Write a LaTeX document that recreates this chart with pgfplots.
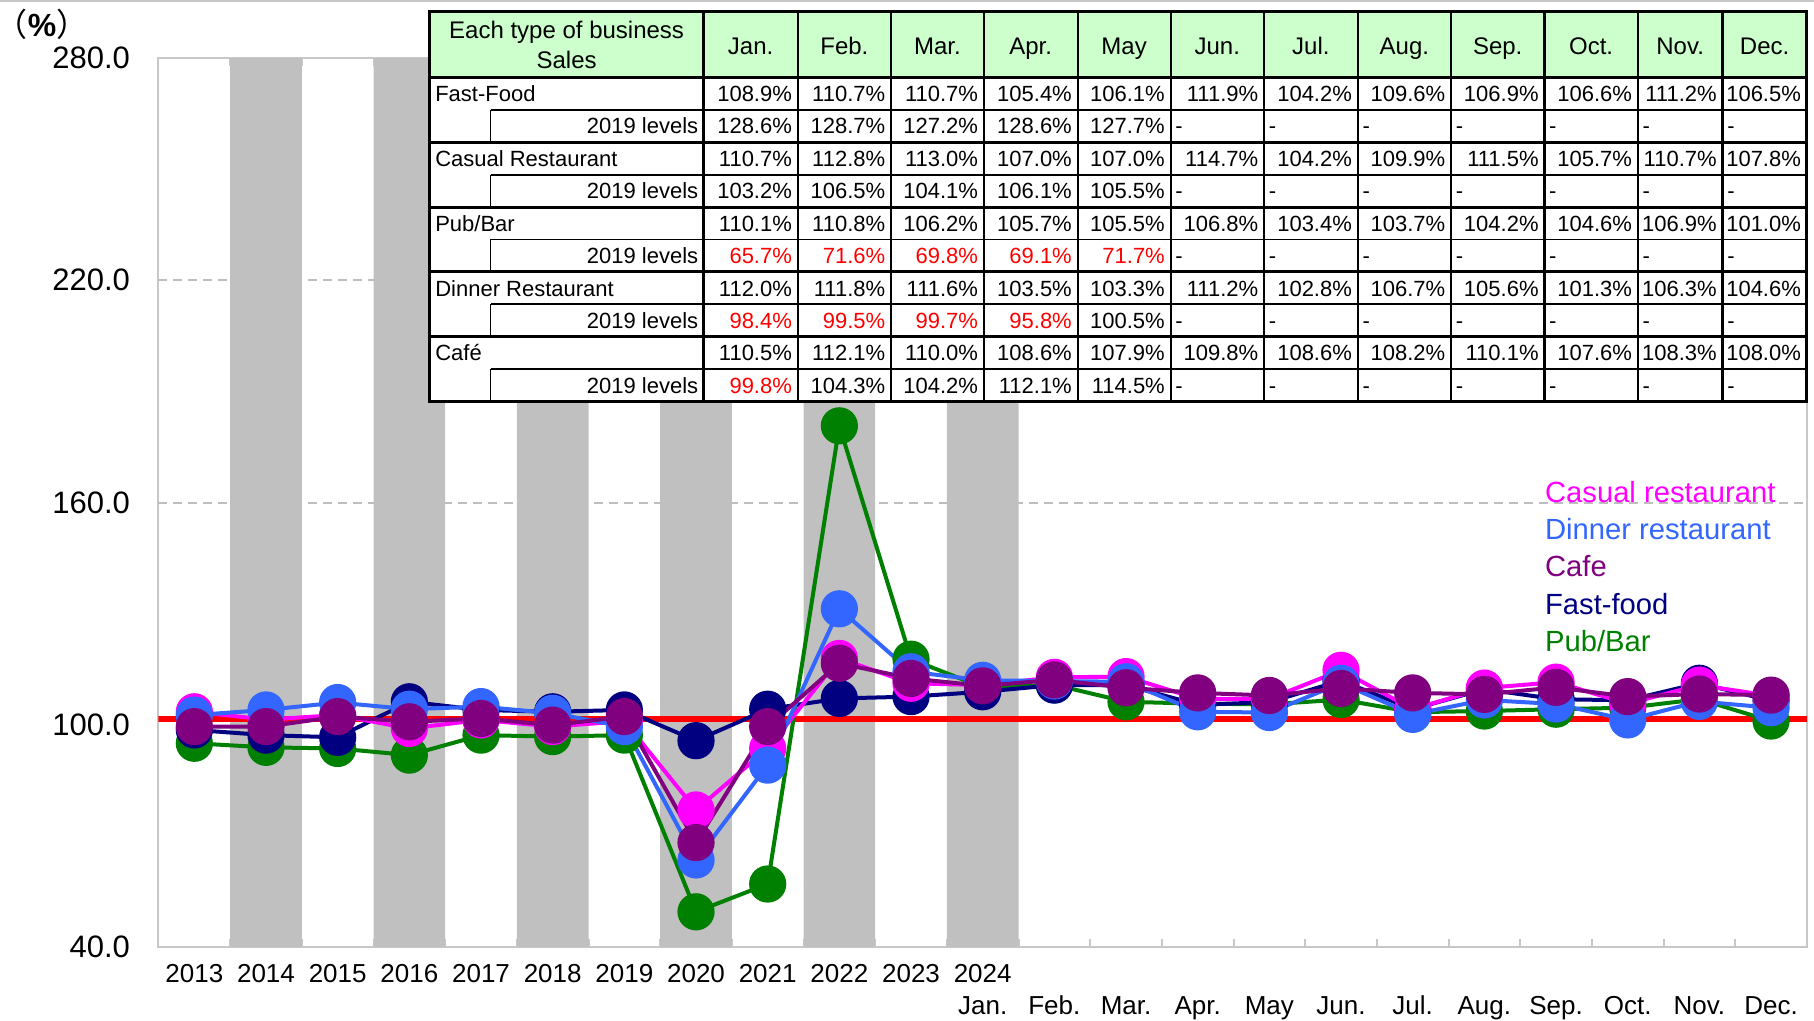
\documentclass[border=0pt]{standalone}
\usepackage{pgfplots}
\pgfplotsset{compat=1.18}
\usepackage{pgfplotstable}
\usepackage{fontspec}
\setmainfont{Liberation Sans}
\newfontfamily\cjk{Noto Sans CJK JP}
\definecolor{bandgray}{RGB}{192,192,192}
\definecolor{framegray}{RGB}{200,200,200}
\definecolor{gridgray}{RGB}{190,190,190}
\definecolor{cmag}{RGB}{255,0,255}
\definecolor{cblue}{RGB}{51,102,255}
\definecolor{cpurp}{RGB}{128,0,128}
\definecolor{cnavy}{RGB}{0,0,128}
\definecolor{cgreen}{RGB}{0,128,0}
\definecolor{hdrgreen}{RGB}{204,255,204}
\definecolor{tred}{RGB}{255,0,0}

\pgfplotstableread{
x  ff    cas   din   caf   pub
0  98.6  103.5 102.6 99.5  95.0
1  97.2  101.4 104.0 99.5  93.9
2  96.6  102.6 106.0 102.2 93.6
3  106.2 99.0  104.2 100.8 91.8
4  104.0 101.3 104.9 101.7 97.2
5  103.5 99.5  103.1 99.9  96.8
6  104.0 101.0 99.5  102.2 97.2
7  95.7  77.0  63.5  68.2  49.5
8  104.2 93.6  89.1  99.5  57.0
9  107.1 117.9 131.3 116.6 180.7
10 107.6 111.2 114.3 112.5 117.7
11 108.9 110.7 112.0 110.5 110.1
12 110.7 112.8 111.8 112.1 110.8
13 110.7 113.0 111.6 110.0 106.2
14 105.4 107.0 103.5 108.6 105.7
15 106.1 107.0 103.3 107.9 105.5
16 111.9 114.7 111.2 109.8 106.8
17 104.2 104.2 102.8 108.6 103.4
18 109.6 109.9 106.7 108.2 103.7
19 106.9 111.5 105.6 110.1 104.2
20 106.6 105.7 101.3 107.6 104.6
21 111.2 110.7 106.3 108.3 106.9
22 106.5 107.8 104.6 108.0 101.0
}\data

\newcommand\yl[1]{\strut #1\\\strut}
\newcommand\ml[1]{\strut\\\strut #1}

% table helpers (coordinates in pixels of the 1814x1020 frame)
\def\colR{{703.5,797.7,891,983.8,1077.6,1170.6,1264,1357.7,1451,1544.4,1637.8,1722.5,1806.7}}
\tikzset{cell/.style={inner sep=0pt, text height=3.95pt, text depth=0pt, font=\fontsize{5.5}{6.6}\selectfont}}
\newcommand\mainrow[3]{%
  \pgfmathsetmacro\yc{77.3+64.88*#1+16.22}
  \node[cell, anchor=west] at (434.5,\yc) {#2};
  \foreach \v [count=\c] in {#3} {
    \pgfmathsetmacro\xr{\colR[\c]}
    \node[cell, anchor=east] at (\xr-5,\yc) {\v\%};
  }
}
\newcommand\subrow[2]{%
  \pgfmathsetmacro\yc{77.3+64.88*#1+48.66}
  \node[cell, anchor=east] at (699,\yc) {2019 levels};
  \foreach \col/\v [count=\c] in {#2} {
    \pgfmathsetmacro\xr{\colR[\c]}
    \node[cell, anchor=east, text=\col] at (\xr-5,\yc) {\v\%};
  }
  \foreach \c [evaluate=\c as \cm using int(\c-1)] in {6,...,12} {
    \pgfmathsetmacro\xl{\colR[\cm]}
    \node[cell, anchor=west] at (\xl+4,\yc) {-};
  }
}

\begin{document}
\begin{tikzpicture}
\path[use as bounding box] (0,0) rectangle (453.5pt,255pt);
\draw[framegray, line width=0.5pt] (0,254.75pt) -- (453.5pt,254.75pt);
\begin{axis}[
  at={(39.625pt,18.25pt)}, anchor=south west,
  scale only axis, width=412.1pt, height=222.25pt,
  xmin=-0.5, xmax=22.5, ymin=40, ymax=280,
  ytick={40,100,160,220,280},
  extra y ticks={160,220},
  extra y tick labels={},
  extra y tick style={grid=major},
  xtick={0,...,22},
  xticklabels={\yl{2013},\yl{2014},\yl{2015},\yl{2016},\yl{2017},\yl{2018},\yl{2019},\yl{2020},\yl{2021},\yl{2022},\yl{2023},{\strut 2024\\\strut Jan.},\ml{Feb.},\ml{Mar.},\ml{Apr.},\ml{May},\ml{Jun.},\ml{Jul.},\ml{Aug.},\ml{Sep.},\ml{Oct.},\ml{Nov.},\ml{Dec.}},
  minor xtick={-0.5,0.5,...,22.5},
  major tick length=0pt,
  minor tick length=2pt,
  tick align=inside,
  minor tick style={framegray, line width=0.5pt},
  xticklabel style={font=\fontsize{6.5}{7.9}\selectfont, align=center, yshift=0.1pt},
  yticklabel style={font=\fontsize{7.75}{9}\selectfont, xshift=-3.6pt,
    /pgf/number format/fixed, /pgf/number format/fixed zerofill, /pgf/number format/precision=1},
  /pgf/number format/assume math mode=true,
  axis line style={framegray, line width=0.5pt},
  major grid style={gridgray, line width=0.5pt, dash pattern=on 2.25pt off 1.5pt},
]
\addplot[ybar, bar width=1, fill=bandgray, draw=none, forget plot] coordinates {(1,280) (3,280) (5,280) (7,280) (9,280) (11,280)};
\addplot[tred, line width=1.6pt, forget plot] coordinates {(-0.5,101.6) (22.5,101.6)};
\addplot[cgreen, line width=1pt, mark=*, mark size=4.15pt, mark options={draw=none, fill=cgreen}] table[x=x, y=pub] {\data};
\addplot[cnavy, line width=1pt, mark=*, mark size=4.15pt, mark options={draw=none, fill=cnavy}] table[x=x, y=ff] {\data};
\addplot[cmag, line width=1pt, mark=*, mark size=4.15pt, mark options={draw=none, fill=cmag}] table[x=x, y=cas] {\data};
\addplot[cblue, line width=1pt, mark=*, mark size=4.15pt, mark options={draw=none, fill=cblue}] table[x=x, y=din] {\data};
\addplot[cpurp, line width=1pt, mark=*, mark size=4.15pt, mark options={draw=none, fill=cpurp}] table[x=x, y=caf] {\data};
\node[anchor=base west, text=cmag, font=\fontsize{7.3}{8}\selectfont] at (axis cs:18.65,160.1) {Casual restaurant};
\node[anchor=base west, text=cblue, font=\fontsize{7.3}{8}\selectfont] at (axis cs:18.65,150.0) {Dinner restaurant};
\node[anchor=base west, text=cpurp, font=\fontsize{7.3}{8}\selectfont] at (axis cs:18.65,139.9) {Cafe};
\node[anchor=base west, text=cnavy, font=\fontsize{7.3}{8}\selectfont] at (axis cs:18.65,129.8) {Fast-food};
\node[anchor=base west, text=cgreen, font=\fontsize{7.3}{8}\selectfont] at (axis cs:18.65,119.7) {Pub/Bar};
\end{axis}

\begin{scope}[x=0.25pt, y=-0.25pt, shift={(0,255pt)}]
  % (%) label
  \node[font=\fontsize{8}{9}\selectfont, inner sep=0pt, text height=5.6pt, text depth=1pt] at (42,27) {{\cjk （}{\bfseries\%}{\cjk ）}};
  % table background
  \fill[hdrgreen] (429.8,11.7) rectangle (1806.7,77.3);
  \fill[white] (429.8,77.3) rectangle (1806.7,401.7);
  % vertical lines
  \foreach \c in {0,...,11} {
    \pgfmathsetmacro\xr{\colR[\c]}
    \draw[black, line width=0.55pt] (\xr,11.7) -- (\xr,401.7);
  }
  % horizontal lines
  \draw[black, line width=0.75pt] (429.8,77.3) -- (1806.7,77.3);
  \foreach \g in {0,...,4} {
    \pgfmathsetmacro\ys{77.3+64.88*\g+32.44}
    \pgfmathsetmacro\yb{77.3+64.88*(\g+1)}
    \draw[black, line width=0.45pt] (490.5,\ys) -- (1806.7,\ys);
    \draw[black, line width=0.45pt] (490.5,\ys) -- (490.5,\yb);
    \draw[black, line width=0.75pt] (429.8,\yb) -- (1806.7,\yb);
  }
  \draw[black, line width=0.8pt] (429.8,11.7) rectangle (1806.7,401.7);
  % header
  \node[align=center, inner sep=0pt, font=\fontsize{6}{7.5}\selectfont] at (566.6,44.5) {Each type of business\\Sales};
  \foreach \m [count=\c, evaluate=\c as \cm using int(\c-1)] in {Jan.,Feb.,Mar.,Apr.,May,Jun.,Jul.,Aug.,Sep.,Oct.,Nov.,Dec.} {
    \pgfmathsetmacro\xa{\colR[\cm]}
    \pgfmathsetmacro\xb{\colR[\c]}
    \node[inner sep=0pt, text height=4.3pt, text depth=0pt, font=\fontsize{6}{7.5}\selectfont] at ({(\xa+\xb)/2},45.5) {\m};
  }
  % rows
  \mainrow{0}{Fast-Food}{108.9,110.7,110.7,105.4,106.1,111.9,104.2,109.6,106.9,106.6,111.2,106.5}
  \subrow{0}{black/128.6,black/128.7,black/127.2,black/128.6,black/127.7}
  \mainrow{1}{Casual Restaurant}{110.7,112.8,113.0,107.0,107.0,114.7,104.2,109.9,111.5,105.7,110.7,107.8}
  \subrow{1}{black/103.2,black/106.5,black/104.1,black/106.1,black/105.5}
  \mainrow{2}{Pub/Bar}{110.1,110.8,106.2,105.7,105.5,106.8,103.4,103.7,104.2,104.6,106.9,101.0}
  \subrow{2}{tred/65.7,tred/71.6,tred/69.8,tred/69.1,tred/71.7}
  \mainrow{3}{Dinner Restaurant}{112.0,111.8,111.6,103.5,103.3,111.2,102.8,106.7,105.6,101.3,106.3,104.6}
  \subrow{3}{tred/98.4,tred/99.5,tred/99.7,tred/95.8,black/100.5}
  \mainrow{4}{Café}{110.5,112.1,110.0,108.6,107.9,109.8,108.6,108.2,110.1,107.6,108.3,108.0}
  \subrow{4}{tred/99.8,black/104.3,black/104.2,black/112.1,black/114.5}
\end{scope}
\end{tikzpicture}
\end{document}
